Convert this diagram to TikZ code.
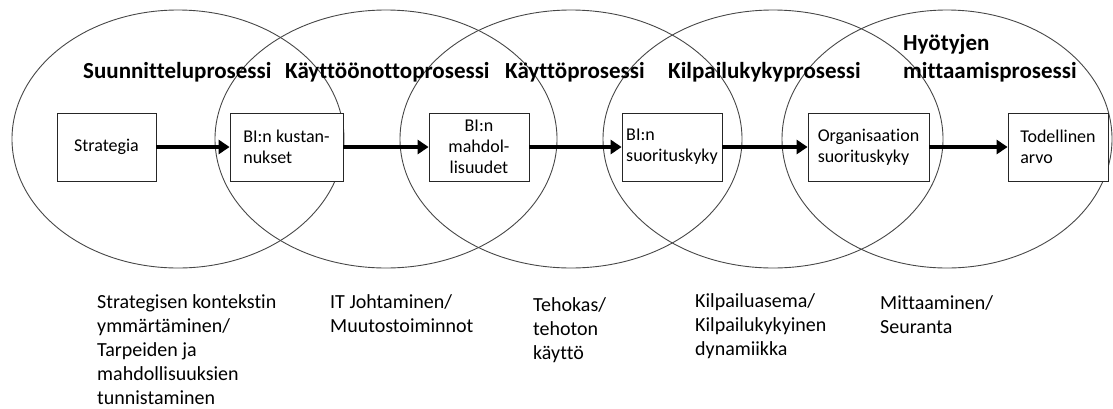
\documentclass[tikz,border=0pt]{standalone}
\usepackage{fontspec}
\setmainfont{Carlito}[Ligatures=NoCommon]
\usetikzlibrary{arrows.meta,positioning}

\tikzset{
  proc/.style={draw=black!72, line width=0.9pt},
  stage/.style={draw=black!85, fill=white, line width=0.8pt, minimum height=68pt,
    inner sep=2pt, align=left, font=\fontsize{18}{21}\selectfont},
  title/.style={anchor=base west, inner sep=0pt, align=left,
    font=\fontsize{23}{28}\selectfont\bfseries},
  note/.style={anchor=base west, inner sep=0pt, align=left,
    font=\fontsize{20}{24}\selectfont},
  flow/.style={line width=3.8pt, -{Triangle[length=11pt,width=14pt]}}
}

\begin{document}
\begin{tikzpicture}[x=1pt, y=-1pt]
  \useasboundingbox (0,0) rectangle (1113,408);

  % process ellipses
  \draw[proc] (178,139) ellipse [x radius=166pt, y radius=129pt];
  \draw[proc] (386,139) ellipse [x radius=171pt, y radius=129pt];
  \draw[proc] (571,139) ellipse [x radius=171pt, y radius=129pt];
  \draw[proc] (773,139) ellipse [x radius=170pt, y radius=129pt];
  \draw[proc] (947,139) ellipse [x radius=165pt, y radius=129pt];

  % process names (base = last line)
  \node[title] (tsuun) at (83,78) {Suunnitteluprosessi};
  \node[title] (tkaytto) at (285,78) {Käyttöönottoprosessi};
  \node[title] (tkaytt) at (505,78) {Käyttöprosessi};
  \node[title] (tkilp) at (668,78) {Kilpailukykyprosessi};
  \node[title] (thyot) at (903,78) {Hyötyjen\\mittaamisprosessi};

  % stages
  \node[stage, minimum width=99pt, align=center] (strat) at (106.5,147) {Strategia};
  \node[stage, minimum width=113pt] (kust) at (286.5,147) {BI:n kustan-\\nukset};
  \node[stage, minimum width=100pt, align=center] (mahd) at (479,147) {BI:n\\mahdol-\\lisuudet};
  \node[stage, minimum width=100pt] (suor) at (672,147) {BI:n\\suorituskyky};
  \node[stage, minimum width=121pt] (org) at (868.5,147) {Organisaation\\suorituskyky};
  \node[stage, minimum width=100pt] (arvo) at (1058,147) {Todellinen\\arvo};

  \draw[flow] (strat) -- (kust);
  \draw[flow] (kust) -- (mahd);
  \draw[flow] (mahd) -- (suor);
  \draw[flow] (suor) -- (org);
  \draw[flow] (org) -- (arvo);

  % activities below (base = last line)
  \node[note] (nsuun) at (97,404) {Strategisen kontekstin\\ymmärtäminen/\\Tarpeiden ja\\mahdollisuuksien\\tunnistaminen};
  \node[note] (nkaytto) at (330,332) {IT Johtaminen/\\Muutostoiminnot};
  \node[note] (nkaytt) at (533,359) {Tehokas/\\tehoton\\käyttö};
  \node[note] (nkilp) at (695,355) {Kilpailuasema/\\Kilpailukykyinen\\dynamiikka};
  \node[note] (nhyot) at (880,333) {Mittaaminen/\\Seuranta};
\end{tikzpicture}
\end{document}
